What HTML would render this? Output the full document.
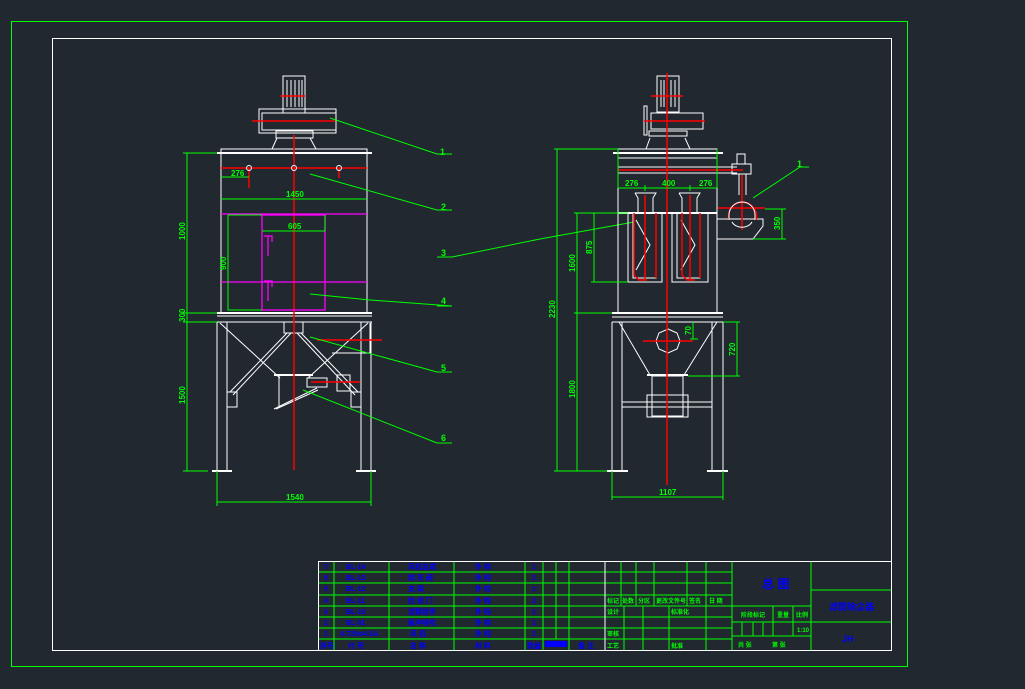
<!DOCTYPE html>
<html><head><meta charset="utf-8"><style>
html,body{margin:0;padding:0;background:#212830;}
svg{display:block}
text{font-family:"Liberation Sans","Noto Sans CJK SC",sans-serif;font-weight:bold}
</style></head><body>
<svg width="1025" height="689" viewBox="0 0 1025 689" xmlns="http://www.w3.org/2000/svg">
<rect width="1025" height="689" fill="#212830"/>
<rect x="11.5" y="21.5" width="896" height="645" fill="none" stroke="#00ff00" stroke-width="1"/>
<rect x="52.5" y="38.5" width="839" height="612" fill="none" stroke="#ffffff" stroke-width="1"/>

<!-- LEFT VIEW -->
<g fill="none" stroke="#fff" stroke-width="1">
<rect x="283" y="76" width="22" height="37"/>
<line x1="287" y1="80" x2="287" y2="107"/><line x1="291" y1="80" x2="291" y2="107"/><line x1="295" y1="80" x2="295" y2="107"/><line x1="299" y1="80" x2="299" y2="107"/><line x1="302" y1="80" x2="302" y2="107"/>
<rect x="259" y="109" width="77" height="24"/>
<rect x="262" y="113" width="74" height="17"/>
<rect x="276" y="131" width="37" height="7"/>
<line x1="277" y1="138" x2="272" y2="149"/><line x1="310" y1="138" x2="316" y2="149"/>
<rect x="221" y="149" width="146" height="164"/>
<line x1="217" y1="153" x2="372" y2="153" stroke-width="2"/>
<line x1="217" y1="313" x2="372" y2="313" stroke-width="2"/>
<line x1="217" y1="316" x2="372" y2="316"/>
<line x1="217" y1="322" x2="372" y2="322"/>
<line x1="217" y1="322" x2="217" y2="471"/><line x1="227" y1="322" x2="227" y2="471"/>
<line x1="361" y1="322" x2="361" y2="471"/><line x1="371" y1="322" x2="371" y2="471"/>
<line x1="212" y1="471" x2="232" y2="471" stroke-width="2"/><line x1="356" y1="471" x2="376" y2="471" stroke-width="2"/>
<rect x="284" y="322" width="19" height="11"/>
<line x1="220" y1="323" x2="280" y2="378"/><line x1="291" y1="333" x2="233" y2="395"/><line x1="287" y1="333" x2="230" y2="392"/>
<line x1="368" y1="323" x2="308" y2="378"/><line x1="297" y1="333" x2="355" y2="395"/><line x1="301" y1="333" x2="358" y2="392"/>
<rect x="227" y="392" width="10" height="15"/><rect x="351" y="392" width="10" height="15"/>
<line x1="274" y1="375" x2="313" y2="375" stroke-width="2"/>
<line x1="279" y1="375" x2="279" y2="408"/>
<line x1="274" y1="409" x2="317" y2="388"/><line x1="276" y1="409" x2="318" y2="390"/>
<rect x="307" y="378" width="20" height="9"/><rect x="337" y="375" width="13" height="16"/>
<line x1="370" y1="323" x2="370" y2="353"/><line x1="332" y1="353" x2="371" y2="353"/>
</g>
<g stroke="#ff0000" stroke-width="1.5" fill="none">
<line x1="294" y1="135" x2="294" y2="470"/>
<line x1="252" y1="121" x2="335" y2="121"/>
<line x1="221" y1="168" x2="367" y2="168"/>
<line x1="249" y1="168" x2="249" y2="188"/><line x1="339" y1="168" x2="339" y2="178"/>
<line x1="317" y1="340" x2="382" y2="340"/>
<line x1="311" y1="382" x2="360" y2="382"/>
<line x1="280" y1="96" x2="305" y2="96"/>
</g>
<g fill="none" stroke="#fff"><circle cx="249" cy="168" r="2.5"/><circle cx="294" cy="168" r="2.5"/><circle cx="339" cy="168" r="2.5"/></g>
<g stroke="#ff00ff" stroke-width="1.3" fill="none">
<line x1="221" y1="214" x2="367" y2="214"/><line x1="221" y1="282" x2="367" y2="282"/>
<rect x="262" y="215" width="63" height="95"/>
<path d="M264 236h8v6M268 236v20M264 281h8v6M268 281v20"/>
</g>
<path d="M228 215h34M228 215v95h34" stroke="#00ff00" fill="none"/>
<line x1="262" y1="231" x2="325" y2="231" stroke="#00ff00"/>
<line x1="325" y1="215" x2="325" y2="231" stroke="#00ff00"/>
<!-- left dims -->
<g stroke="#00ff00" stroke-width="1" fill="none">
<line x1="187" y1="153" x2="187" y2="471"/>
<line x1="183" y1="153" x2="217" y2="153"/><line x1="183" y1="313" x2="217" y2="313"/><line x1="183" y1="322" x2="217" y2="322"/><line x1="183" y1="471" x2="208" y2="471"/>
<line x1="221" y1="177" x2="249" y2="177"/>
<line x1="221" y1="199" x2="367" y2="199"/>
<line x1="217" y1="502" x2="371" y2="502"/><line x1="217" y1="471" x2="217" y2="506"/><line x1="371" y1="471" x2="371" y2="506"/>
<polyline points="330,118 437,154 452,154"/>
<polyline points="310,174 437,210 452,210"/>
<polyline points="634,222 540,239 452,257 437,257"/>
<polyline points="310,294 370,300 452,306 437,306"/>
<polyline points="310,337 437,372 452,372"/>
<polyline points="303,390 437,443 452,443"/>
</g>
<g fill="#00ff00" font-size="8">
<text x="231" y="176">276</text><text x="286" y="197">1450</text><text x="288" y="229">605</text>
<text x="286" y="500">1540</text>
<text transform="translate(185,240) rotate(-90)">1000</text>
<text transform="translate(185,322) rotate(-90)">300</text>
<text transform="translate(185,404) rotate(-90)">1500</text>
<text transform="translate(226,270) rotate(-90)">900</text>
<text x="440" y="155" font-weight="normal" font-size="9">1</text>
<text x="441" y="210" font-weight="normal" font-size="9">2</text>
<text x="441" y="256" font-weight="normal" font-size="9">3</text>
<text x="441" y="304" font-weight="normal" font-size="9">4</text>
<text x="441" y="371" font-weight="normal" font-size="9">5</text>
<text x="441" y="441" font-weight="normal" font-size="9">6</text>
</g>

<!-- RIGHT VIEW -->
<g fill="none" stroke="#fff" stroke-width="1">
<rect x="657" y="76" width="22" height="36"/>
<line x1="661" y1="80" x2="661" y2="107"/><line x1="664" y1="80" x2="664" y2="107"/><line x1="671" y1="80" x2="671" y2="107"/><line x1="675" y1="80" x2="675" y2="107"/>
<rect x="651" y="113" width="52" height="16"/>
<rect x="644" y="106" width="3" height="29"/>
<rect x="649" y="131" width="38" height="5"/>
<line x1="650" y1="138" x2="646" y2="149"/><line x1="685" y1="138" x2="690" y2="149"/>
<rect x="618" y="149" width="99" height="164"/>
<line x1="613" y1="153" x2="723" y2="153" stroke-width="2"/>
<line x1="618" y1="158" x2="717" y2="158"/>
<line x1="618" y1="167" x2="737" y2="167"/><line x1="618" y1="173" x2="737" y2="173"/>
<line x1="618" y1="213" x2="717" y2="213" stroke-width="2"/>
<rect x="628" y="213" width="34" height="69"/><rect x="633" y="213" width="23" height="65"/>
<rect x="672" y="213" width="36" height="69"/><rect x="677" y="213" width="23" height="65"/>
<path d="M635 193h21l-3 5v15M635 193l3 5v15M679 193h21l-3 5v15M679 193l3 5v15"/>
<path d="M636 220l14 25-14 25M681 220l14 25-14 25"/>
<rect x="737" y="154" width="8" height="10"/><rect x="732" y="164" width="19" height="10"/>
<line x1="739" y1="174" x2="739" y2="195"/><line x1="746" y1="174" x2="746" y2="195"/>
<path d="M717 219h46v7l-10 13h-36"/>
<line x1="612" y1="313" x2="723" y2="313" stroke-width="2"/><line x1="612" y1="317" x2="723" y2="317"/>
<line x1="612" y1="322" x2="723" y2="322"/>
<line x1="612" y1="322" x2="612" y2="471"/><line x1="622" y1="322" x2="622" y2="471"/>
<line x1="712" y1="322" x2="712" y2="471"/><line x1="723" y1="322" x2="723" y2="471"/>
<line x1="607" y1="471" x2="628" y2="471" stroke-width="2"/><line x1="707" y1="471" x2="728" y2="471" stroke-width="2"/>
<line x1="619" y1="322" x2="650" y2="375"/><line x1="717" y1="322" x2="684" y2="375"/>
<line x1="647" y1="375" x2="688" y2="375" stroke-width="2"/>
<polygon points="668,329 677,333 680,341 677,349 668,353 659,349 656,341 659,333"/>
<rect x="652" y="376" width="31" height="40"/><rect x="647" y="395" width="41" height="22"/>
<line x1="622" y1="402" x2="712" y2="402"/><line x1="622" y1="407" x2="712" y2="407"/>
</g>
<g stroke="#ff0000" stroke-width="1.5" fill="none">
<line x1="667" y1="73" x2="667" y2="485"/>
<line x1="651" y1="96" x2="683" y2="96"/><line x1="644" y1="121" x2="705" y2="121"/>
<line x1="618" y1="170" x2="743" y2="170"/>
<line x1="645" y1="195" x2="645" y2="280"/><line x1="690" y1="195" x2="690" y2="280"/>
<path d="M634 213v62l5 5h8M682 213v62l5 5h8M656 213v65M700 213v65"/>
<path d="M729 220a14 14 0 1 1 27 0" />
<line x1="742" y1="175" x2="742" y2="230"/><line x1="718" y1="208" x2="765" y2="208"/>
<line x1="643" y1="341" x2="693" y2="341"/>
</g>
<path d="M729 220v-5a13 13 0 0 1 26 0v5M732 222a11 9 0 0 0 20 0" stroke="#fff" fill="none"/>
<g stroke="#00ff00" stroke-width="1" fill="none">
<line x1="557" y1="149" x2="557" y2="471"/><line x1="554" y1="149" x2="618" y2="149"/><line x1="554" y1="471" x2="607" y2="471"/>
<line x1="577" y1="213" x2="577" y2="471"/><line x1="574" y1="213" x2="628" y2="213"/><line x1="574" y1="313" x2="612" y2="313"/>
<line x1="594" y1="213" x2="594" y2="282"/><line x1="591" y1="282" x2="628" y2="282"/>
<line x1="618" y1="188" x2="717" y2="188"/><line x1="618" y1="149" x2="618" y2="188"/><line x1="717" y1="149" x2="717" y2="188"/>
<line x1="645" y1="185" x2="645" y2="191"/><line x1="690" y1="185" x2="690" y2="191"/>
<line x1="782" y1="209" x2="782" y2="239"/><line x1="765" y1="209" x2="786" y2="209"/><line x1="753" y1="239" x2="786" y2="239"/>
<line x1="737" y1="322" x2="737" y2="376"/><line x1="723" y1="322" x2="740" y2="322"/><line x1="688" y1="376" x2="740" y2="376"/>
<line x1="693" y1="322" x2="693" y2="339"/><line x1="690" y1="339" x2="698" y2="339"/>
<line x1="612" y1="497" x2="723" y2="497"/><line x1="612" y1="471" x2="612" y2="500"/><line x1="723" y1="471" x2="723" y2="500"/>
<polyline points="753,198 800,167 809,167"/>
</g>
<g fill="#00ff00" font-size="8">
<text x="625" y="186">276</text><text x="662" y="186">400</text><text x="699" y="186">276</text>
<text x="659" y="495">1107</text>
<text transform="translate(555,318) rotate(-90)">2230</text>
<text transform="translate(575,272) rotate(-90)">1600</text>
<text transform="translate(575,398) rotate(-90)">1800</text>
<text transform="translate(592,254) rotate(-90)">875</text>
<text transform="translate(780,230) rotate(-90)">350</text>
<text transform="translate(735,356) rotate(-90)">720</text>
<text transform="translate(691,335) rotate(-90)">70</text>
<text x="797" y="167" font-weight="normal" font-size="9">1</text>
</g>

<!-- TITLE BLOCK -->
<g stroke="#00ff00" stroke-width="1" fill="none">
<line x1="318" y1="572" x2="732" y2="572"/><line x1="318" y1="583" x2="732" y2="583"/><line x1="318" y1="595" x2="732" y2="595"/>
<line x1="318" y1="606" x2="811" y2="606"/><line x1="318" y1="617" x2="732" y2="617"/><line x1="318" y1="628" x2="732" y2="628"/><line x1="318" y1="639" x2="732" y2="639"/>
<line x1="334" y1="561" x2="334" y2="650"/><line x1="389" y1="561" x2="389" y2="650"/><line x1="454" y1="561" x2="454" y2="650"/>
<line x1="525" y1="561" x2="525" y2="650"/><line x1="543" y1="561" x2="543" y2="650"/><line x1="556" y1="561" x2="556" y2="639"/><line x1="569" y1="561" x2="569" y2="650"/>
<line x1="621" y1="561" x2="621" y2="606"/><line x1="636" y1="561" x2="636" y2="606"/><line x1="654" y1="561" x2="654" y2="606"/><line x1="687" y1="561" x2="687" y2="606"/><line x1="706" y1="561" x2="706" y2="650"/>
<line x1="624" y1="606" x2="624" y2="650"/><line x1="643" y1="606" x2="643" y2="650"/><line x1="669" y1="606" x2="669" y2="650"/>
<line x1="732" y1="561" x2="732" y2="650"/><line x1="811" y1="561" x2="811" y2="650"/>
<line x1="811" y1="590" x2="891" y2="590"/><line x1="732" y1="622" x2="891" y2="622"/><line x1="732" y1="636" x2="811" y2="636"/>
<line x1="773" y1="606" x2="773" y2="636"/><line x1="793" y1="606" x2="793" y2="636"/>
<line x1="742" y1="622" x2="742" y2="636"/><line x1="753" y1="622" x2="753" y2="636"/><line x1="763" y1="622" x2="763" y2="636"/>
</g>
<g stroke="#fff" stroke-width="1" fill="none">
<line x1="318" y1="561.5" x2="891" y2="561.5"/><line x1="318.5" y1="561" x2="318.5" y2="650"/><line x1="605" y1="561" x2="605" y2="650"/>
</g>
<g fill="#0000ff" font-size="7">
<text x="324" y="569">7</text><text x="346" y="569">BL-14</text><text x="408" y="569">风机总成</text><text x="475" y="569">外 购</text><text x="532" y="569">1</text>
<text x="324" y="580">6</text><text x="346" y="580">BL-13</text><text x="408" y="580">卸 灰 阀</text><text x="475" y="580">外 购</text><text x="532" y="580">1</text>
<text x="324" y="591">5</text><text x="346" y="591">BL-12</text><text x="408" y="591">支 架</text><text x="475" y="591">外 购</text><text x="532" y="591">1</text>
<text x="324" y="603">4</text><text x="346" y="603">BL-11</text><text x="408" y="603">检 修 门</text><text x="475" y="603">外 购</text><text x="532" y="603">2</text>
<text x="324" y="614">3</text><text x="346" y="614">BL-10</text><text x="408" y="614">滤筒组件</text><text x="475" y="614">外 购</text><text x="532" y="614">1</text>
<text x="324" y="625">2</text><text x="346" y="625">BL-01</text><text x="408" y="625">脉冲喷吹</text><text x="475" y="625">外 购</text><text x="532" y="625">1</text>
<text x="324" y="636">1</text><text x="340" y="636">4-72No4.5A</text><text x="410" y="636">风 机</text><text x="475" y="636">外 购</text><text x="532" y="636">1</text>
<text x="320" y="648">序号</text><text x="348" y="648">代 号</text><text x="410" y="648">名 称</text><text x="475" y="648">材 料</text><text x="527" y="648">数量</text><text x="578" y="648">备 注</text>
<text x="762" y="588" font-size="12">总 图</text>
<text x="829" y="610" font-size="9">滤筒除尘器</text>
<text x="842" y="642" font-size="9">JH</text>
</g>
<rect x="545" y="641" width="22" height="6" fill="#0000ff"/>
<g fill="#00ff00" font-size="6">
<text x="607" y="603">标记</text><text x="622" y="603">处数</text><text x="638" y="603">分区</text><text x="656" y="603">更改文件号</text><text x="689" y="603">签名</text><text x="709" y="603">日 期</text>
<text x="607" y="614">设计</text><text x="671" y="614">标准化</text>
<text x="607" y="636">审核</text><text x="607" y="648">工艺</text><text x="671" y="648">批准</text>
<text x="741" y="617">阶段标记</text><text x="777" y="617">重量</text><text x="796" y="617">比例</text>
<text x="797" y="632">1:10</text>
<text x="738" y="647">共 张</text><text x="772" y="647">第 张</text>
</g>
</svg>
</body></html>
